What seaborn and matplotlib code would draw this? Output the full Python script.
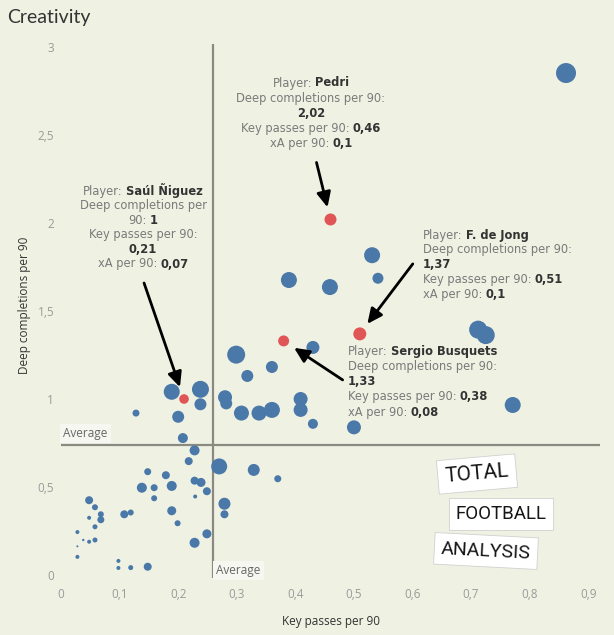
import matplotlib
matplotlib.use("Agg")
import matplotlib.pyplot as plt
import seaborn as sns
import pandas as pd
from matplotlib.offsetbox import TextArea, HPacker, AnnotationBbox

# ---------------- data ----------------
key_passes = [0.862, 0.531, 0.541, 0.389, 0.459, 0.430, 0.712, 0.725, 0.771, 0.500,
              0.299, 0.318, 0.360, 0.189, 0.238, 0.238, 0.200, 0.208, 0.228, 0.280,
              0.282, 0.308, 0.338, 0.360, 0.409, 0.409, 0.430, 0.128, 0.218, 0.270,
              0.329, 0.370, 0.148, 0.179, 0.189, 0.159, 0.138, 0.228, 0.239, 0.249,
              0.229, 0.159, 0.279, 0.279, 0.189, 0.199, 0.249, 0.228, 0.108, 0.119,
              0.048, 0.058, 0.068, 0.068, 0.048, 0.058, 0.028, 0.038, 0.048, 0.058,
              0.028, 0.028, 0.098, 0.098, 0.119, 0.148]
deep_completions = [2.852, 1.817, 1.686, 1.676, 1.636, 1.293, 1.394, 1.363, 0.966, 0.839,
                    1.252, 1.131, 1.182, 1.041, 1.055, 0.970, 0.899, 0.778, 0.708, 1.010,
                    0.975, 0.920, 0.920, 0.938, 1.000, 0.938, 0.859, 0.920, 0.647, 0.617,
                    0.597, 0.547, 0.587, 0.567, 0.506, 0.496, 0.496, 0.536, 0.526, 0.476,
                    0.446, 0.436, 0.405, 0.345, 0.365, 0.294, 0.234, 0.183, 0.345, 0.355,
                    0.425, 0.385, 0.345, 0.314, 0.325, 0.274, 0.244, 0.199, 0.189, 0.199,
                    0.163, 0.103, 0.080, 0.040, 0.042, 0.047]
# bubble size value (relative radius)
bubble = [10, 8, 5.5, 8, 8, 6.5, 9, 9, 8, 7,
          9, 6, 6, 8, 8.5, 6, 6, 5, 5, 7,
          6, 7.5, 7.5, 8, 7, 7, 5, 3.5, 4, 8,
          6, 3.5, 3.5, 4, 5, 3.5, 5, 4, 4.5, 4,
          2, 3, 6, 4, 4.5, 3, 4.5, 5, 4, 3,
          4, 3, 3, 3.5, 2, 2.5, 2, 1.2, 2, 2.5,
          1, 2, 2, 2, 2.5, 4]

players = ["Saúl Ñiguez", "Sergio Busquets", "Pedri", "F. de Jong"]
players_kp = [0.21, 0.38, 0.46, 0.51]
players_dc = [1.00, 1.33, 2.02, 1.37]
players_xa = ["0,07", "0,08", "0,1", "0,1"]
players_kp_txt = ["0,21", "0,38", "0,46", "0,51"]
players_dc_txt = ["1", "1,33", "2,02", "1,37"]
players_bubble = [4.8, 5.5, 6, 6.5]

avg_kp = 0.26
avg_dc = 0.74

x_ticks = [0, 0.1, 0.2, 0.3, 0.4, 0.5, 0.6, 0.7, 0.8, 0.9]
y_ticks = [0, 0.5, 1, 1.5, 2, 2.5, 3]

BG = "#eff2e3"
BLUE = "#4a78a8"
RED = "#e05656"

df = pd.DataFrame({
    "kp": key_passes + players_kp,
    "dc": deep_completions + players_dc,
    "area": [b ** 2 for b in bubble + players_bubble],
    "group": ["other"] * len(key_passes) + ["highlight"] * len(players),
})

sns.set_style("white", {"axes.facecolor": BG, "figure.facecolor": BG})
plt.rcParams["font.family"] = ["Open Sans", "DejaVu Sans"]

fig = plt.figure(figsize=(6.14, 6.35), dpi=100)
W, H = 614, 635
ax = fig.add_axes([61 / W, 1 - 578 / H, (600 - 61) / W, (578 - 44) / H])
ax.set_facecolor(BG)

amax = max(df["area"])
sns.scatterplot(data=df, x="kp", y="dc", hue="group",
                palette={"other": BLUE, "highlight": RED},
                size="area", sizes=(0, 2.0736 * amax), size_norm=(0, amax),
                linewidth=0, legend=False, ax=ax, zorder=3)

ax.axvline(avg_kp, color="#8a8a80", lw=1.6, zorder=2)
ax.axhline(avg_dc, color="#8a8a80", lw=1.6, zorder=2)

ax.set_xlim(0, 0.92)
ax.set_ylim(-0.017, 3.017)
ax.set_xticks(x_ticks)
ax.set_xticklabels([("%g" % v).replace(".", ",") for v in x_ticks])
ax.set_yticks(y_ticks)
ax.set_yticklabels([("%g" % v).replace(".", ",") for v in y_ticks])
ax.tick_params(length=0, colors="#9a9a9a", labelsize=8.5)
ax.tick_params(axis="x", pad=7)
ax.tick_params(axis="y", pad=5)
for s in ax.spines.values():
    s.set_visible(False)
ax.set_xlabel("Key passes per 90", fontsize=8.5, color="#333333", labelpad=10)
ax.set_ylabel("Deep completions per 90", fontsize=8.5, color="#333333")
ax.yaxis.set_label_coords(-0.055, 0.51)

fig.text(7 / W, 1 - 17 / H, "Creativity", fontsize=14, color="#333333",
         va="center", ha="left", family=["Lato", "DejaVu Sans"])

# average labels
ax.text(0.004, avg_dc + 0.025, "Average", fontsize=8.5, color="#666666",
        va="bottom", ha="left", zorder=4,
        bbox=dict(boxstyle="square,pad=0.25", fc="#f6f7f0", ec="none"))
ax.text(avg_kp + 0.005, 0.025, "Average", fontsize=8.5, color="#666666",
        va="center", ha="left", zorder=4,
        bbox=dict(boxstyle="square,pad=0.25", fc="#f6f7f0", ec="none"))

# ---------------- annotation blocks ----------------
GRAY = "#7a7a7a"
DARK = "#333333"
FS = 8.3


def seg(t, bold=False):
    return TextArea(t, textprops=dict(fontsize=FS, color=DARK if bold else GRAY,
                                      fontweight="bold" if bold else "normal",
                                      family="DejaVu Sans"))


def block(lines, x_px, y0_px, align, step=15.2):
    for i, line in enumerate(lines):
        kids = [seg(t, b) for t, b in line]
        hp = HPacker(children=kids, align="baseline", pad=0, sep=2.3)
        ab = AnnotationBbox(hp, (x_px, H - (y0_px + i * step)), xycoords="figure pixels",
                            box_alignment=(0.5, 0.5) if align == "center" else (0, 0.5),
                            frameon=False, pad=0, annotation_clip=False, zorder=5)
        fig.add_artist(ab)


block([[("Player:", False), (players[2], True)],
       [("Deep completions per 90:", False)],
       [(players_dc_txt[2], True)],
       [("Key passes per 90:", False), (players_kp_txt[2], True)],
       [("xA per 90:", False), (players_xa[2], True)]], 311, 83, "center")

block([[("Player:", False), (players[0], True)],
       [("Deep completions per", False)],
       [("90:", False), (players_dc_txt[0], True)],
       [("Key passes per 90:", False)],
       [(players_kp_txt[0], True)],
       [("xA per 90:", False), (players_xa[0], True)]], 143, 191, "center", step=14.6)

block([[("Player:", False), (players[3], True)],
       [("Deep completions per 90:", False)],
       [(players_dc_txt[3], True)],
       [("Key passes per 90:", False), (players_kp_txt[3], True)],
       [("xA per 90:", False), (players_xa[3], True)]], 423, 235, "left", step=14.8)

block([[("Player:", False), (players[1], True)],
       [("Deep completions per 90:", False)],
       [(players_dc_txt[1], True)],
       [("Key passes per 90:", False), (players_kp_txt[1], True)],
       [("xA per 90:", False), (players_xa[1], True)]], 348, 351, "left", step=15.3)

# arrows (tail offsets in pixels from each highlighted point)
arrow_offsets = [(-40, 116), (59, -39), (-14, 57), (53, 70)]
for (dx, dy), px, py in zip(arrow_offsets, players_kp, players_dc):
    ax.annotate("", xy=(px, py), xytext=(dx, dy), textcoords="offset pixels",
                arrowprops=dict(arrowstyle="-|>,head_length=0.6,head_width=0.28",
                                color="black", lw=2, shrinkA=0, shrinkB=9,
                                mutation_scale=15), zorder=6)

# logo
logo_font = ["Roboto", "DejaVu Sans"]
for txt, (lx, ly), rot, fs in [("TOTAL", (477, 474), 5, 15),
                               ("FOOTBALL", (501, 514), 0, 13.5),
                               ("ANALYSIS", (486, 551), -3, 14)]:
    fig.text(lx / W, 1 - ly / H, txt, fontsize=fs, color="#151515", rotation=rot,
             ha="center", va="center", family=logo_font, fontweight="normal",
             bbox=dict(boxstyle="square,pad=0.35", fc="white", ec="#d0d0d0", lw=0.6))

fig.savefig("out.png", dpi=100, facecolor=BG)
